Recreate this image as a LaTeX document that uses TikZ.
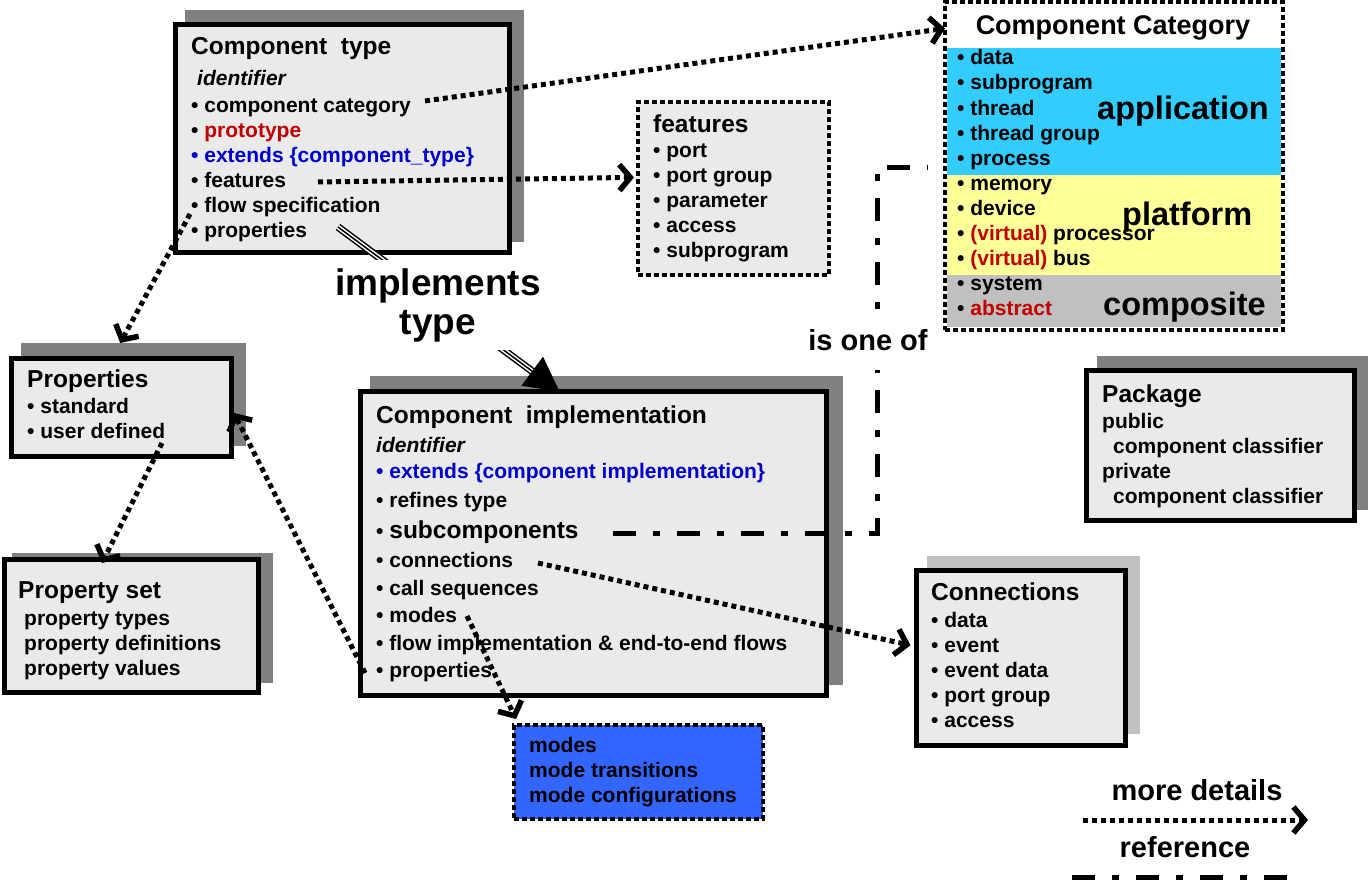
\documentclass[tikz,border=0pt]{standalone}
\usepackage{fontspec}
\setmainfont{Liberation Sans}
\usetikzlibrary{arrows.meta}
\definecolor{boxgrey}{RGB}{234,234,234}
\definecolor{shadegrey}{RGB}{128,128,128}
\definecolor{lightshade}{RGB}{192,192,192}
\definecolor{appblue}{RGB}{51,204,255}
\definecolor{platyellow}{RGB}{255,255,153}
\definecolor{compgrey}{RGB}{192,192,192}
\definecolor{modeblue}{RGB}{51,102,255}
\definecolor{aadlred}{RGB}{192,0,0}
\definecolor{aadlblue}{RGB}{0,0,204}
\tikzset{
  box/.style={draw, line width=5pt, fill=boxgrey, anchor=north west, inner sep=0pt, outer sep=0pt},
  dotbox/.style={draw, line width=4pt, dash pattern=on 5pt off 3pt, anchor=north west, inner sep=0pt, outer sep=0pt},
  item/.style={anchor=base west, inner sep=0pt, font=\fontsize{21pt}{25pt}\selectfont\bfseries},
  heading/.style={item, font=\fontsize{24.5pt}{29pt}\selectfont\bfseries},
  catgroup/.style={item, font=\fontsize{32.5pt}{36pt}\selectfont\bfseries},
  moredetail/.style={line width=5pt, dash pattern=on 5pt off 4pt, -{Straight Barb[length=11pt,width=26pt,line width=5.5pt]}},
  refline/.style={line width=5pt, dash pattern=on 23pt off 17pt on 7pt off 17pt},
}
\begin{document}
\begin{tikzpicture}[x=1pt, y=-1pt]
  \useasboundingbox (0,0) rectangle (1369,883);

  % shadows
  \fill[shadegrey] (185,10) rectangle (524,242);
  \fill[shadegrey] (21,343) rectangle (246,446);
  \fill[shadegrey] (12,553) rectangle (273,683);
  \fill[shadegrey] (370,376) rectangle (843,685);
  \fill[lightshade] (927,556) rectangle (1140,734);
  \fill[shadegrey] (1097,356) rectangle (1368,510);

  % boxes
  \node[box, minimum width=334pt, minimum height=227pt] (ctype) at (175,25) {};
  \node[box, minimum width=219.5pt, minimum height=98pt] (props) at (11.5,358) {};
  \node[box, minimum width=254pt, minimum height=133pt] (pset) at (4,559) {};
  \node[box, minimum width=466pt, minimum height=303.5pt] (impl) at (360.5,391.5) {};
  \node[box, minimum width=209pt, minimum height=174.5pt] (conn) at (916.5,570.5) {};
  \node[box, minimum width=267.5pt, minimum height=149.5pt] (pkg) at (1086.5,370.5) {};
  \node[dotbox, fill=boxgrey, minimum width=191pt, minimum height=173pt] (feat) at (638,102) {};
  \node[dotbox, fill=modeblue, minimum width=249pt, minimum height=94pt] (modebox) at (514,725) {};
  \node[dotbox, fill=white, minimum width=338pt, minimum height=328pt] (cat) at (945,2) {};
  \fill[appblue] (947,48) rectangle (1281,175);
  \fill[platyellow] (947,175) rectangle (1281,275);
  \fill[compgrey] (947,275) rectangle (1281,327);

  % component type
  \node[heading] (ctname) at (191,55) {Component\ \ type};
  \node[item] (ctid) at (197,85) {\itshape identifier};
  \node[item] (ct1) at (191,112) {• component category};
  \node[item] (ct2) at (191,137) {• \textcolor{aadlred}{prototype}};
  \node[item, text=aadlblue] (ct3) at (191,162) {• extends \{component\_type\}};
  \node[item] (ct4) at (191,187) {• features};
  \node[item] (ct5) at (191,212) {• flow specification};
  \node[item] (ct6) at (191,237) {• properties};

  % features
  \node[heading] (featname) at (653,132) {features};
  \foreach \t [count=\i] in {port, port group, parameter, access, subprogram}
    \node[item] (feat\i) at (653,{132+25*\i}) {• \t};

  % component category
  \node[item, anchor=base, font=\fontsize{27pt}{32pt}\selectfont\bfseries] (catname) at (1113,35) {Component Category};
  \foreach \t [count=\i] in {data, subprogram, thread, thread group, process, memory, device,
      {\textcolor{aadlred}{(virtual)} processor}, {\textcolor{aadlred}{(virtual)} bus}, system,
      \textcolor{aadlred}{abstract}}
    \node[item] (cat\i) at (957,{40+25*\i}) {• \t};
  \node[catgroup] (app) at (1097,120) {application};
  \node[catgroup] (plat) at (1122,225) {platform};
  \node[catgroup] (compo) at (1103,315) {composite};

  % properties, property set
  \node[heading] (propname) at (27,387) {Properties};
  \node[item] (prop1) at (27,413) {• standard};
  \node[item] (prop2) at (27,438) {• user defined};
  \node[heading] (psetname) at (18,598) {Property set};
  \foreach \t [count=\i] in {property types, property definitions, property values}
    \node[item] (pset\i) at (24,{600+25*\i}) {\t};

  % component implementation
  \node[heading] (imname) at (376,423) {Component\ \ implementation};
  \node[item] (imid) at (376,452) {\itshape identifier};
  \node[item, text=aadlblue] (im1) at (376,478) {• extends \{component implementation\}};
  \node[item] (im2) at (376,507) {• refines type};
  \node[item] (im3) at (376,538) {• {\fontsize{24.5pt}{29pt}\selectfont subcomponents}};
  \node[item] (im4) at (376,567) {• connections};
  \node[item] (im5) at (376,595) {• call sequences};
  \node[item] (im6) at (376,622) {• modes};
  \node[item] (im7) at (376,650) {• flow implementation \& end-to-end flows};
  \node[item] (im8) at (376,677) {• properties};

  % connections, package, modes
  \node[heading] (connname) at (931,600) {Connections};
  \foreach \t [count=\i] in {data, event, event data, port group, access}
    \node[item] (conn\i) at (931,{602+25*\i}) {• \t};
  \node[heading] (pkgname) at (1102,402) {Package};
  \node[item] (pkg1) at (1102,428) {public};
  \node[item] (pkg2) at (1113,453) {component classifier};
  \node[item] (pkg3) at (1102,478) {private};
  \node[item] (pkg4) at (1113,503) {component classifier};
  \foreach \t [count=\i] in {modes, mode transitions, mode configurations}
    \node[item] (mode\i) at (529,{727+25*\i}) {\t};

  % free ends
  \coordinate (ccat-out) at (425,101);
  \coordinate (feat-out) at (318,182);
  \coordinate (ctprop-out) at (190,214);
  \coordinate (user-out) at (162,443);
  \coordinate (improp-out) at (365,673);
  \coordinate (conn-out) at (538,563);
  \coordinate (modes-out) at (467,616);
  \coordinate (sub-out) at (613,533);
  \coordinate (turn) at (877,167);
  \coordinate (oneof) at (928,167);
  \coordinate (impl-from) at (338,227);

  % implements type
  \draw[line width=7.5pt, shorten >=30pt] (impl-from) -- ([xshift=-34pt]impl.north);
  \draw[white, line width=4.5pt, shorten >=29pt] (impl-from) -- ([xshift=-34pt]impl.north);
  \draw[line width=1.5pt, -{Triangle[length=34pt,width=36pt]}] (impl-from) -- ([xshift=-34pt]impl.north);
  \node[fill=white, align=center, inner xsep=2pt, inner ysep=8pt, font=\fontsize{37pt}{39pt}\selectfont\bfseries] (implements) at (438,305) {implements\\type};

  % more details
  \draw[moredetail] (ccat-out) -- (cat.north west |- catname.west);
  \draw[moredetail] (feat-out) -- ([xshift=-4pt]feat.west |- feat2.west);
  \draw[moredetail] (ctprop-out) -- ([xshift=-1pt, yshift=15pt]props.north);
  \draw[moredetail] (user-out) -- ([xshift=-29pt, yshift=-4pt]pset.north);
  \draw[moredetail] (improp-out) -- ([xshift=3pt, yshift=-6pt]props.east);
  \draw[moredetail] (conn-out) -- ([xshift=-6pt]conn.west |- conn2.west);
  \draw[moredetail] (modes-out) -- ([xshift=2pt, yshift=6pt]modebox.north west);

  % is one of
  \draw[refline] (sub-out) -| (turn) -- (oneof);
  \node[fill=white, minimum height=60pt, inner xsep=2pt, font=\fontsize{29pt}{32pt}\selectfont\bfseries] (isoneof) at (868,340) {is one of};

  % legend
  \coordinate (leg-a) at (1083,820);
  \coordinate (leg-b) at (1308,820);
  \coordinate (leg-c) at (1072,877);
  \coordinate (leg-d) at (1292,877);
  \node[anchor=base, inner sep=0pt, font=\fontsize{29pt}{32pt}\selectfont\bfseries] (legdetail) at (1197,800) {more details};
  \node[anchor=base, inner sep=0pt, font=\fontsize{29pt}{32pt}\selectfont\bfseries] (legref) at (1185,857) {reference};
  \draw[moredetail] (leg-a) -- (leg-b);
  \draw[refline] (leg-c) -- (leg-d);
\end{tikzpicture}
\end{document}
